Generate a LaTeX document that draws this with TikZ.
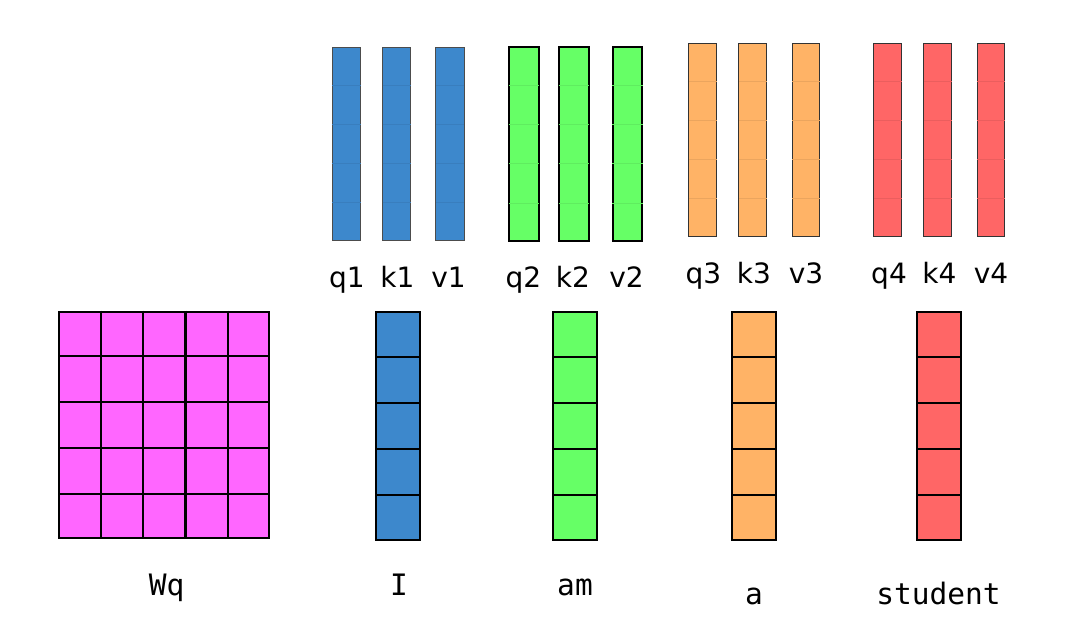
\documentclass[tikz,border=0pt]{standalone}
\usepackage{fontspec}
\setmainfont{DejaVu Sans}
\newfontfamily\monofont{DejaVu Sans Mono}
\usetikzlibrary{calc}
\definecolor{cblue}{HTML}{3D88CC}
\definecolor{cgreen}{HTML}{66FF66}
\definecolor{corange}{HTML}{FFB366}
\definecolor{cred}{HTML}{FF6666}
\definecolor{cmag}{HTML}{FF66FF}
\tikzset{
  topbar/.style={rectangle, inner sep=0pt, line width=1pt},
  bluebar/.style={topbar, fill=cblue, draw=black!70, minimum width=28.4pt, minimum height=193.4pt},
  greenbar/.style={topbar, fill=cgreen, draw=black, line width=2pt, minimum width=29.4pt, minimum height=194.6pt},
  orangebar/.style={topbar, fill=corange, draw=black!80, minimum width=27.7pt, minimum height=193.4pt},
  redbar/.style={topbar, fill=cred, draw=black!80, minimum width=27.7pt, minimum height=193.4pt},
  vecbox/.style={rectangle, inner sep=0pt, draw=black, line width=2pt, minimum width=44pt, minimum height=228pt},
  toplabel/.style={anchor=base, inner sep=0pt, font=\fontsize{28}{31}\selectfont},
  botlabel/.style={anchor=base, inner sep=0pt, font=\monofont\fontsize{29.5}{33}\selectfont},
}
\newcommand{\cellsfaint}[2]{%
  \foreach \i in {1,...,4}{\draw[line width=0.7pt, draw=#2]
    ($(#1.north west)!\i/5!(#1.south west)+(0.5,0)$) -- ($(#1.north east)!\i/5!(#1.south east)+(-0.5,0)$);}}
\newcommand{\cellsrows}[1]{%
  \foreach \i in {1,...,4}{\draw[line width=1.6pt]
    ($(#1.north west)!\i/5!(#1.south west)$) -- ($(#1.north east)!\i/5!(#1.south east)$);}}
\begin{document}
\begin{tikzpicture}[x=1pt,y=-1pt]
\useasboundingbox (0,0) rectangle (1075,624);

% top bars
\node[bluebar] (q1) at (346.5,144) {};
\node[bluebar] (k1) at (396.7,144) {};
\node[bluebar] (v1) at (450,144) {};
\node[greenbar] (q2) at (524,144) {};
\node[greenbar] (k2) at (573.8,144) {};
\node[greenbar] (v2) at (627.3,144) {};
\node[orangebar] (q3) at (702.8,140) {};
\node[orangebar] (k3) at (752.8,140) {};
\node[orangebar] (v3) at (806,140) {};
\node[redbar] (q4) at (887.8,140) {};
\node[redbar] (k4) at (937.8,140) {};
\node[redbar] (v4) at (991,140) {};
\foreach \n in {q1,k1,v1}{\cellsfaint{\n}{cblue!93!black}}
\foreach \n in {q2,k2,v2}{\cellsfaint{\n}{cgreen!93!black}}
\foreach \n in {q3,k3,v3}{\cellsfaint{\n}{corange!92!black}}
\foreach \n in {q4,k4,v4}{\cellsfaint{\n}{cred!92!black}}

% top labels
\node[toplabel] (lq1) at (347,287) {q1};
\node[toplabel] (lk1) at (397.5,287) {k1};
\node[toplabel] (lv1) at (448.5,287) {v1};
\node[toplabel] (lq2) at (523.5,287) {q2};
\node[toplabel] (lk2) at (573,287) {k2};
\node[toplabel] (lv2) at (626.5,287) {v2};
\node[toplabel] (lq3) at (703.5,283) {q3};
\node[toplabel] (lk3) at (754,283) {k3};
\node[toplabel] (lv3) at (806,283) {v3};
\node[toplabel] (lq4) at (889,283) {q4};
\node[toplabel] (lk4) at (939.3,283) {k4};
\node[toplabel] (lv4) at (991,283) {v4};

% Wq grid
\node[rectangle, inner sep=0pt, fill=cmag, draw=black, line width=2.2pt,
      minimum width=210pt, minimum height=226.6pt] (wq) at (164.3,425) {};
\foreach \i in {1,...,4}{
  \draw[line width=2.2pt] ($(wq.north west)!\i/5!(wq.north east)$) -- ($(wq.south west)!\i/5!(wq.south east)$);
  \draw[line width=2.2pt] ($(wq.north west)!\i/5!(wq.south west)$) -- ($(wq.north east)!\i/5!(wq.south east)$);
}

% word vectors
\node[vecbox, fill=cblue] (vI) at (398,426) {};
\node[vecbox, fill=cgreen] (vam) at (575.3,426) {};
\node[vecbox, fill=corange] (va) at (754,426) {};
\node[vecbox, fill=cred] (vst) at (939,426) {};
\foreach \n in {vI,vam,va,vst}{\cellsrows{\n}}

% bottom labels
\node[botlabel] (lwq) at (166.7,595) {Wq};
\node[botlabel] (lI) at (399,595) {I};
\node[botlabel] (lam) at (575,595) {am};
\node[botlabel] (la) at (754,604) {a};
\node[botlabel] (lst) at (938.5,604) {student};
\end{tikzpicture}
\end{document}
